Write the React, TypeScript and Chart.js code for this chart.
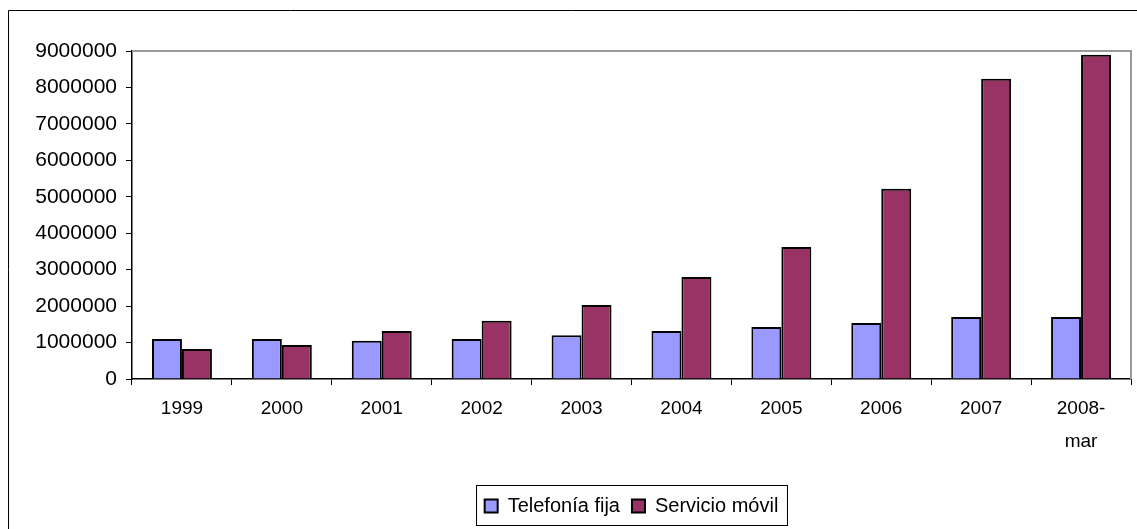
import React, { useEffect, useRef } from "react";
import { Chart, registerables } from "chart.js";

Chart.register(...registerables);

const categories: (string | string[])[] = ["1999", "2000", "2001", "2002", "2003", "2004", "2005", "2006", "2007", ["2008-", "mar"]];
const telefoniaFija = [1100000, 1100000, 1050000, 1100000, 1200000, 1320000, 1430000, 1540000, 1700000, 1700000];
const servicioMovil = [820000, 930000, 1320000, 1600000, 2030000, 2800000, 3620000, 5220000, 8240000, 8900000];
const seriesNames = ["Telefonía fija", "Servicio móvil"];

const FONT = "'Liberation Sans', Arial, sans-serif";

const framePlugin = {
  id: "frame",
  beforeDraw(chart: any) {
    const ctx = chart.ctx;
    ctx.save();
    ctx.fillStyle = "#ffffff";
    ctx.fillRect(0, 0, chart.width, chart.height);
    ctx.strokeStyle = "#000000";
    ctx.lineWidth = 1;
    ctx.beginPath();
    ctx.moveTo(8.5, chart.height);
    ctx.lineTo(8.5, 10.5);
    ctx.lineTo(chart.width, 10.5);
    ctx.stroke();
    ctx.restore();
  },
  afterDraw(chart: any) {
    const ctx = chart.ctx;
    const a = chart.chartArea;
    ctx.save();
    ctx.strokeStyle = "#999999";
    ctx.lineWidth = 2;
    ctx.beginPath();
    ctx.moveTo(a.left, a.top);
    ctx.lineTo(a.right, a.top);
    ctx.lineTo(a.right, a.bottom);
    ctx.stroke();
    // legend box
    const boxes = chart.legend?.legendHitBoxes || [];
    if (boxes.length) {
      let l = Infinity, t = Infinity, r = -Infinity, b = -Infinity;
      for (const h of boxes) {
        l = Math.min(l, h.left);
        t = Math.min(t, h.top);
        r = Math.max(r, h.left + h.width);
        b = Math.max(b, h.top + h.height);
      }
      ctx.strokeStyle = "#000000";
      ctx.lineWidth = 1;
      ctx.strokeRect(Math.round(l - 9) + 0.5, Math.round(t - 11) + 0.5, Math.round(r - l + 17), Math.round(b - t + 20));
    }
    ctx.restore();
  },
};

export default function App() {
  const ref = useRef<HTMLCanvasElement>(null);
  useEffect(() => {
    if (!ref.current) return;
    const chart = new Chart(ref.current, {
      type: "bar",
      data: {
        labels: categories,
        datasets: [
          {
            label: seriesNames[0],
            data: telefoniaFija,
            backgroundColor: "#9999FF",
            borderColor: "#000000",
            borderWidth: 2,
            categoryPercentage: 0.6,
            barPercentage: 1.0,
          },
          {
            label: seriesNames[1],
            data: servicioMovil,
            backgroundColor: "#993366",
            borderColor: "#000000",
            borderWidth: 2,
            categoryPercentage: 0.6,
            barPercentage: 1.0,
          },
        ],
      },
      options: {
        animation: false,
        responsive: false,
        maintainAspectRatio: false,
        layout: { padding: { left: 0, right: 6, top: 51, bottom: 3 } },
        plugins: {
          tooltip: { enabled: false },
          legend: {
            position: "bottom",
            fullSize: false,
            labels: {
              color: "#000000",
              font: { family: FONT, size: 20 },
              boxWidth: 13,
              boxHeight: 13,
              padding: 12,
            },
          },
        },
        scales: {
          x: {
            grid: {
              display: true,
              drawOnChartArea: false,
              drawTicks: true,
              tickLength: 6,
              color: "#000000",
              offset: true,
            },
            border: { display: true, color: "#000000", width: 1.5 },
            ticks: {
              color: "#000000",
              font: { family: FONT, size: 19, lineHeight: 1.7 },
              maxRotation: 0,
              autoSkip: false,
              padding: 8,
            },
            afterFit: (s: any) => {
              s.height = 105;
            },
          },
          y: {
            min: 0,
            max: 9000000,
            grid: {
              display: true,
              drawOnChartArea: false,
              drawTicks: true,
              tickLength: 6,
              color: "#000000",
            },
            border: { display: true, color: "#000000", width: 1.5 },
            ticks: {
              stepSize: 1000000,
              color: "#000000",
              font: { family: FONT, size: 21 },
              padding: 9,
              callback: (v: any) => String(v),
            },
            afterFit: (s: any) => {
              s.width = 132;
            },
          },
        },
      },
      plugins: [framePlugin],
    });
    return () => chart.destroy();
  }, []);
  return (
    <div style={{ position: "absolute", left: 0, top: 0, width: 1137, height: 529 }}>
      <canvas ref={ref} width={1137} height={529} style={{ display: "block" }} />
    </div>
  );
}
